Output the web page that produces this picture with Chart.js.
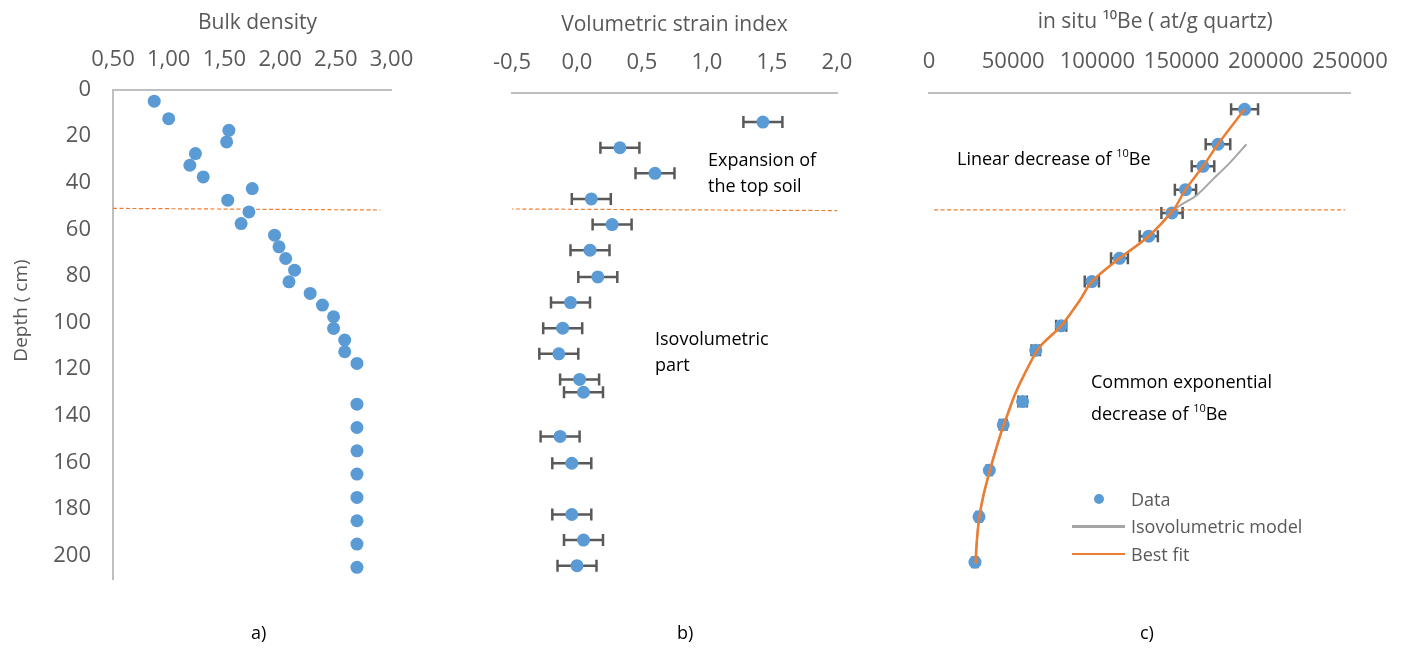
<!DOCTYPE html>
<html>
<head>
<meta charset="utf-8">
<script src="https://cdn.jsdelivr.net/npm/chart.js@4.4.0/dist/chart.umd.min.js"></script>
<style>
  body { margin: 0; background: #fff; font-family: 'Open Sans', sans-serif; }
  #wrap { position: relative; width: 1407px; height: 652px; overflow: hidden; }
  canvas { position: absolute; top: 0; }
  .note { position: absolute; font-size: 18px; color: #000; line-height: 26px; white-space: nowrap; }
  .note sup { font-size: 11px; vertical-align: baseline; position: relative; top: -8px; }
  .cap { position: absolute; top: 620px; font-size: 18px; color: #000; }
  #legend { position: absolute; left: 1072px; top: 485px; font-size: 18px; color: #595959; }
  #legend .row { display: flex; align-items: center; height: 27.5px; }
  #legend .mk { width: 53px; margin-right: 6px; display: flex; justify-content: center; align-items: center; }
  #legend .dot { width: 10px; height: 10px; border-radius: 50%; background: #5B9BD5; }
  #legend .ln { width: 53px; height: 2.5px; }
</style>
</head>
<body>
<div id="wrap">
  <canvas id="chartA" width="470" height="652" style="left:0"></canvas>
  <canvas id="chartB" width="420" height="652" style="left:470px"></canvas>
  <canvas id="chartC" width="517" height="652" style="left:890px"></canvas>

  <div class="note" style="left:708px;top:146px">Expansion of<br>the top soil</div>
  <div class="note" style="left:655px;top:325px">Isovolumetric<br>part</div>
  <div class="note" style="left:957px;top:145px">Linear decrease of <sup>10</sup>Be</div>
  <div class="note" style="left:1091px;top:365px;line-height:32px">Common exponential<br>decrease of <sup>10</sup>Be</div>

  <div id="legend">
    <div class="row"><div class="mk"><div class="dot"></div></div>Data</div>
    <div class="row"><div class="mk"><div class="ln" style="background:#A5A5A5"></div></div>Isovolumetric model</div>
    <div class="row"><div class="mk"><div class="ln" style="background:#ED7D31"></div></div>Best fit</div>
  </div>

  <div class="cap" style="left:251px">a)</div>
  <div class="cap" style="left:677px">b)</div>
  <div class="cap" style="left:1140px">c)</div>
</div>

<script>
// a) bulk density profile
const bdDepth = [5, 12.5, 17.5, 22.5, 27.5, 32.5, 37.5, 42.5, 47.5, 52.5, 57.5, 62.5, 67.5, 72.5, 77.5, 82.5,
  87.5, 92.5, 97.5, 102.5, 107.5, 112.5, 117.5, 135, 145, 155, 165, 175, 185, 195, 205];
const bdValue = [0.87, 1.00, 1.54, 1.52, 1.24, 1.19, 1.31, 1.75, 1.53, 1.72, 1.65, 1.95, 1.99, 2.05, 2.13, 2.08,
  2.27, 2.38, 2.48, 2.48, 2.58, 2.58, 2.69, 2.69, 2.69, 2.69, 2.69, 2.69, 2.69, 2.69, 2.69];

// b) volumetric strain index
const vsDepth = [12.5, 23.5, 34.5, 45.5, 56.5, 67.5, 79, 90, 101, 112, 123, 128.5, 147.5, 159, 181, 192, 203];
const vsValue = [1.43, 0.33, 0.60, 0.11, 0.27, 0.10, 0.16, -0.05, -0.11, -0.14, 0.02, 0.05, -0.13, -0.04, -0.04, 0.05, 0.00];
const vsErr = [0.15, 0.15, 0.15, 0.15, 0.15, 0.15, 0.15, 0.15, 0.15, 0.15, 0.15, 0.15, 0.15, 0.15, 0.15, 0.15, 0.15];

// c) in situ 10Be
const beDepth = [7, 22, 31.5, 41.5, 51.5, 61.5, 71, 81, 100, 110.5, 132.5, 142.5, 162, 182, 201.5];
const beValue = [187400, 171600, 162700, 152300, 144300, 130500, 113100, 96700, 78500, 63400, 55600, 44100, 35800, 29700, 27300];
const beErr = [8000, 7300, 6700, 6300, 6300, 5400, 5000, 4200, 3000, 2500, 2500, 2000, 1500, 1500, 1500];

const fitDepth = [7, 22, 31.5, 41.5, 50.5, 61.5, 71, 81, 89, 100, 109, 119, 129.5, 137.5, 143, 152, 162, 173, 183, 195, 202];
const fitValue = [187400, 171600, 162700, 152300, 144900, 130500, 113100, 96700, 89600, 78500, 65800, 57900, 51000,
  47000, 44100, 40200, 36200, 32200, 29700, 28100, 27700];

const isoDepth = [22, 30, 37, 44, 47.5, 50.5, 61.5, 71, 81, 89, 100, 109, 119, 129.5, 143, 162, 183, 202];
const isoValue = [188500, 178600, 168700, 158800, 150900, 144900, 130500, 113100, 96700, 89600, 78500, 65800, 57900,
  51000, 44100, 36200, 29700, 27700];

// limit between top soil and isovolumetric part
const sepA = { x: [0.5, 2.9], depth: [51, 51.7] };
const sepB = { x: [-0.52, 2.0], depth: [49.8, 50.5] };
const sepC = { x: [3000, 247000], depth: [50.2, 50.2] };

const pts = (xs, ys) => xs.map((v, i) => ({ x: v, y: ys[i] }));

const BLUE = '#5B9BD5', ORANGE = '#ED7D31', GREY = '#A5A5A5', TXT = '#595959', AXIS = '#BFBFBF';

Chart.defaults.font.family = "'Open Sans', sans-serif";
Chart.defaults.animation = false;

const errorBars = {
  id: 'errorBars',
  beforeDatasetsDraw(chart) {
    const ctx = chart.ctx, xs = chart.scales.x, ys = chart.scales.y;
    chart.data.datasets.forEach(ds => {
      if (!ds.xErr) return;
      ctx.save();
      ctx.strokeStyle = TXT;
      ctx.lineWidth = 2.5;
      ds.data.forEach((p, j) => {
        const y = ys.getPixelForValue(p.y);
        const x1 = xs.getPixelForValue(p.x - ds.xErr[j]);
        const x2 = xs.getPixelForValue(p.x + ds.xErr[j]);
        ctx.beginPath();
        ctx.moveTo(x1, y); ctx.lineTo(x2, y);
        ctx.moveTo(x1, y - 6); ctx.lineTo(x1, y + 6);
        ctx.moveTo(x2, y - 6); ctx.lineTo(x2, y + 6);
        ctx.stroke();
      });
      ctx.restore();
    });
  }
};

function dataSet(xs, ys, err) {
  return { data: pts(xs, ys), xErr: err, backgroundColor: BLUE, borderWidth: 0, pointRadius: 6.5 };
}
function sepSet(s) {
  return { data: pts(s.x, s.depth), showLine: true, borderColor: ORANGE, borderWidth: 1.2,
    borderDash: [4, 2.5], pointRadius: 0 };
}

function xAxis(min, max, step, fmt, title, h, titlePad, tickPad) {
  return {
    type: 'linear', position: 'top', min: min, max: max,
    grid: { display: false, drawTicks: false },
    border: { display: true, color: AXIS, width: 2 },
    ticks: { stepSize: step, color: TXT, font: { size: 22 }, padding: tickPad,
      maxRotation: 0, autoSkip: false, callback: fmt },
    title: { display: true, text: title, color: TXT, font: { size: 21 }, padding: { top: titlePad, bottom: 0 } },
    afterFit: s => { s.height = h; }
  };
}

function yAxis(show) {
  const y = {
    type: 'linear', reverse: true, min: 0, max: 210, display: show,
    grid: { display: false, drawTicks: false },
    border: { display: true, color: AXIS, width: 2 },
    ticks: { stepSize: 20, color: TXT, font: { size: 22 }, padding: 22, includeBounds: false,
      callback: v => (v % 20 === 0 ? v : '') },
    title: { display: true, text: '\u2003\u2003\u2002Depth ( cm)', color: TXT, font: { size: 19 },
      padding: { top: 10, bottom: 0 } }
  };
  if (show) y.afterFit = s => { s.width = 113; };
  return y;
}

function baseOptions(x, showY, pad) {
  return {
    responsive: false, events: [],
    layout: { padding: pad },
    plugins: { legend: { display: false }, tooltip: { enabled: false } },
    scales: { x: x, y: yAxis(showY) }
  };
}

new Chart(document.getElementById('chartA'), {
  type: 'scatter',
  data: { datasets: [dataSet(bdValue, bdDepth, null), sepSet(sepA)] },
  options: baseOptions(
    xAxis(0.5, 3, 0.5, v => v.toFixed(2).replace('.', ','), '\u2002Bulk density', 89.5, 10.1, 16.3),
    true, { left: 0, right: 78.5, top: 0, bottom: 73 })
});

new Chart(document.getElementById('chartB'), {
  type: 'scatter',
  data: { datasets: [dataSet(vsValue, vsDepth, vsErr), sepSet(sepB)] },
  options: baseOptions(
    xAxis(-0.5, 2, 0.5, v => v.toFixed(1).replace('.', ','), 'Volumetric strain index', 93, 12.4, 16.8),
    false, { left: 42, right: 53, top: 0, bottom: 70 }),
  plugins: [errorBars]
});

new Chart(document.getElementById('chartC'), {
  type: 'scatter',
  data: {
    datasets: [
      { data: pts(fitValue, fitDepth), showLine: true, borderColor: ORANGE, borderWidth: 2.5, pointRadius: 0, tension: 0.3 },
      { data: pts(isoValue, isoDepth), showLine: true, borderColor: GREY, borderWidth: 2, pointRadius: 0, tension: 0.3 },
      sepSet(sepC),
      dataSet(beValue, beDepth, beErr)
    ]
  },
  options: baseOptions(
    xAxis(0, 250000, 50000, v => String(v), '\u2003\u2002in situ \u00B9\u2070Be ( at/g quartz)', 93, 9.9, 17.8),
    false, { left: 39, right: 57, top: 0, bottom: 70 }),
  plugins: [errorBars]
});
</script>
</body>
</html>
